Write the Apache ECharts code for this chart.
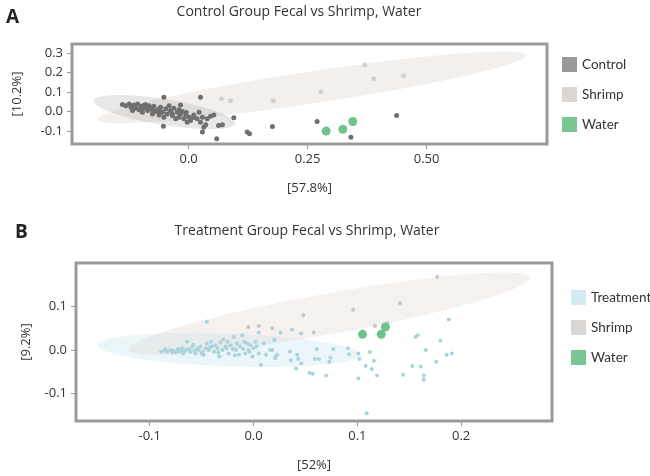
<!DOCTYPE html>
<html lang="en">
<head>
    <meta charset="UTF-8">
    <title>Fecal vs Shrimp, Water</title>
    <script src="https://cdn.jsdelivr.net/npm/echarts/dist/echarts.min.js"></script>
    <style>
        body { margin: 0; background: #fff; }
        #chart-container { width: 650px; height: 476px; }
    </style>
</head>
<body>
    <div id="chart-container"></div>
    <script>
        // ---- panel A data ----
        var controlA = [
            [-0.139, 0.036], [-0.132, 0.030], [-0.125, 0.039], [-0.121, 0.022], [-0.118, 0.005],
            [-0.114, 0.034], [-0.111, 0.017], [-0.107, 0.039], [-0.104, 0.010], [-0.100, 0.027],
            [-0.097, -0.003], [-0.093, 0.034], [-0.090, 0.017], [-0.086, 0.005], [-0.083, 0.030],
            [-0.079, 0.014], [-0.076, -0.012], [-0.073, 0.027], [-0.069, 0.000], [-0.065, 0.010],
            [-0.062, -0.017], [-0.059, 0.022], [-0.055, -0.003], [-0.052, -0.029], [-0.048, 0.014],
            [-0.045, -0.012], [-0.041, 0.030], [-0.038, 0.005], [-0.034, -0.020], [-0.031, 0.017],
            [-0.027, -0.037], [-0.024, -0.003], [-0.020, -0.029], [-0.017, -0.012], [-0.013, 0.000],
            [-0.010, -0.037], [-0.006, -0.017], [-0.003, -0.054], [0.001, -0.029], [0.004, -0.046],
            [0.011, -0.017], [0.018, -0.037], [0.022, -0.003], [0.025, -0.054], [0.029, -0.029],
            [0.032, -0.080], [0.036, -0.068], [0.039, -0.037], [0.046, -0.024], [0.053, -0.017],
            [0.063, -0.071], [0.071, -0.068], [-0.017, 0.034], [-0.052, 0.073], [0.025, 0.073],
            [-0.053, -0.075], [0.029, -0.105], [0.059, -0.139], [0.095, -0.032], [0.123, -0.105],
            [0.128, -0.113], [0.176, -0.076], [0.270, -0.051], [0.341, -0.132], [0.437, -0.020],
            [-0.120, 0.030], [-0.095, 0.020], [-0.075, 0.005], [-0.060, 0.000], [-0.035, -0.010],
            [-0.020, 0.010], [-0.005, -0.005], [0.010, -0.030], [-0.090, 0.035], [-0.100, 0.015]
        ];
        var shrimpA = [
            [0.069, 0.066], [0.088, 0.056], [0.178, 0.056], [0.278, 0.102],
            [0.370, 0.239], [0.389, 0.168], [0.452, 0.183]
        ];
        var waterA = [[0.289, -0.100], [0.324, -0.091], [0.345, -0.051]];
        // ellipse: [tip x1, tip y1, tip x2, tip y2, minor/major ratio]
        var shrimpEllipseA = [-0.190, -0.041, 0.709, 0.289, 0.074];
        var controlEllipseA = [-0.199, 0.056, 0.098, -0.061, 0.18];
        var xTicksA = ['0.0', '0.25', '0.50'];
        var yTicksA = ['-0.1', '0.0', '0.1', '0.2', '0.3'];

        // ---- panel B data ----
        var treatmentB = [
            [-0.089, -0.004], [-0.086, -0.002], [-0.083, -0.004], [-0.080, 0.000], [-0.077, -0.002],
            [-0.075, -0.006], [-0.073, 0.002], [-0.072, -0.004], [-0.070, 0.000], [-0.069, 0.004],
            [-0.067, -0.004], [-0.065, 0.000], [-0.064, 0.019], [-0.062, 0.002], [-0.061, -0.004],
            [-0.059, 0.008], [-0.057, -0.002], [-0.056, -0.008], [-0.054, 0.004], [-0.053, 0.000],
            [-0.051, 0.008], [-0.049, -0.004], [-0.048, -0.011], [-0.046, 0.004], [-0.045, 0.015],
            [-0.043, 0.000], [-0.041, 0.019], [-0.040, 0.008], [-0.038, -0.004], [-0.037, 0.011],
            [-0.035, 0.004], [-0.033, -0.015], [-0.032, 0.017], [-0.030, 0.000], [-0.029, 0.024],
            [-0.027, 0.008], [-0.025, 0.019], [-0.024, -0.008], [-0.022, 0.011], [-0.020, 0.002],
            [-0.019, 0.030], [-0.017, 0.000], [-0.016, 0.015], [-0.014, -0.011], [-0.013, 0.008],
            [-0.011, 0.034], [-0.009, 0.019], [-0.008, -0.008], [-0.006, 0.015], [-0.005, 0.000],
            [-0.003, 0.011], [-0.001, -0.015], [0.000, 0.004], [0.002, 0.019], [0.005, -0.008],
            [0.007, -0.034], [0.010, 0.015], [0.012, -0.011], [0.016, 0.000], [0.020, 0.023],
            [0.021, -0.019], [-0.045, 0.065], [0.005, 0.040],
            [-0.085, 0.003], [-0.078, -0.006], [-0.068, -0.008], [-0.058, 0.012], [-0.050, -0.008],
            [-0.042, 0.006], [-0.034, -0.006], [-0.026, 0.004], [-0.018, -0.012], [-0.010, 0.002],
            [-0.004, -0.004], [0.003, 0.008],
            [0.018, 0.050], [0.026, 0.040], [0.037, 0.047], [0.046, 0.038], [0.020, 0.023],
            [0.018, 0.000], [0.021, -0.015], [0.023, -0.011], [0.035, -0.004], [0.036, -0.024],
            [0.042, -0.011], [0.043, -0.021], [0.046, -0.031], [0.041, -0.043], [0.054, -0.053],
            [0.057, -0.055], [0.061, 0.002], [0.059, -0.021], [0.063, -0.021], [0.070, -0.059],
            [0.074, -0.018], [0.073, -0.027], [0.077, 0.002], [0.091, 0.004], [0.092, -0.010],
            [0.101, -0.008], [0.102, -0.021], [0.101, -0.066], [0.112, -0.005], [0.108, -0.037],
            [0.116, -0.025], [0.114, -0.044], [0.119, -0.059], [0.109, -0.146], [0.129, 0.062],
            [0.156, 0.030], [0.158, 0.034], [0.144, -0.057], [0.153, -0.037], [0.161, -0.038],
            [0.164, -0.059], [0.164, -0.069], [0.166, 0.000], [0.176, -0.027], [0.180, 0.021],
            [0.186, -0.011], [0.191, -0.008], [0.188, 0.070]
        ];
        var shrimpB = [
            [0.177, 0.169], [0.141, 0.108], [0.096, 0.093], [0.048, 0.080],
            [0.058, 0.040], [-0.005, 0.053], [0.005, 0.055], [0.117, 0.055]
        ];
        var waterB = [[0.105, 0.036], [0.123, 0.036], [0.127, 0.053]];
        var shrimpEllipseB = [-0.120, 0.000, 0.266, 0.167, 0.10];
        var treatmentEllipseB = [-0.150, 0.011, 0.103, -0.011, 0.125];
        var xTicksB = ['-0.1', '0.0', '0.1', '0.2'];
        var yTicksB = ['-0.1', '0.0', '0.1'];

        var font = 'Open Sans';
        var legendFont = 'Lato';
        var myChart = echarts.init(document.getElementById('chart-container'));

        function ellipseSeries(name, params, color, idx) {
            return {
                name: name,
                type: 'custom',
                xAxisIndex: idx,
                yAxisIndex: idx,
                silent: true,
                clip: true,
                data: [params],
                encode: { x: [0, 2], y: [1, 3] },
                renderItem: function (p, api) {
                    var a = api.coord([api.value(0), api.value(1)]);
                    var b = api.coord([api.value(2), api.value(3)]);
                    var ratio = api.value(4);
                    var cx = (a[0] + b[0]) / 2, cy = (a[1] + b[1]) / 2;
                    var dx = (b[0] - a[0]) / 2, dy = (b[1] - a[1]) / 2;
                    // minor axis: perpendicular to the major one, scaled by ratio
                    var nx = -dy * ratio, ny = dx * ratio;
                    var pts = [];
                    for (var i = 0; i < 90; i++) {
                        var t = i / 90 * Math.PI * 2;
                        pts.push([cx + dx * Math.cos(t) + nx * Math.sin(t),
                                  cy + dy * Math.cos(t) + ny * Math.sin(t)]);
                    }
                    return { type: 'polygon', shape: { points: pts }, style: { fill: color } };
                }
            };
        }

        function scatter(name, data, color, size, idx) {
            return {
                name: name, type: 'scatter', data: data,
                xAxisIndex: idx, yAxisIndex: idx,
                symbolSize: size, itemStyle: { color: color, opacity: 1 },
                z: 3
            };
        }

        function valueAxis(min, max, ticks, name, gap, pos, idx) {
            var vals = ticks.map(parseFloat);
            return {
                type: 'value', gridIndex: idx, min: min, max: max, position: pos,
                name: name, nameLocation: 'middle', nameGap: gap,
                nameTextStyle: { fontFamily: font, fontSize: 13, color: '#333' },
                splitLine: { show: false },
                axisLine: { show: false, onZero: false },
                axisTick: { show: true, length: 5, customValues: vals, lineStyle: { color: '#999', width: 1 } },
                axisLabel: {
                    customValues: vals, margin: 9, fontFamily: font, fontSize: 13, color: '#333',
                    formatter: function (v) {
                        var i = vals.indexOf(v);
                        return i >= 0 ? ticks[i] : String(v);
                    }
                }
            };
        }

        var option = {
            animation: false,
            title: [
                { text: 'A', left: 1, top: 3, textStyle: { fontFamily: font, fontSize: 19, fontWeight: 'bold', color: '#222' } },
                { text: 'Control Group Fecal vs Shrimp, Water', left: 294, top: 0, textAlign: 'center',
                  textStyle: { fontFamily: font, fontSize: 14, fontWeight: 'normal', color: '#333' } },
                { text: 'B', left: 10, top: 218, textStyle: { fontFamily: font, fontSize: 19, fontWeight: 'bold', color: '#222' } },
                { text: 'Treatment Group Fecal vs Shrimp, Water', left: 302, top: 219, textAlign: 'center',
                  textStyle: { fontFamily: font, fontSize: 14, fontWeight: 'normal', color: '#333' } }
            ],
            legend: [
                {
                    orient: 'vertical', left: 562, top: 57, padding: 0, itemWidth: 15, itemHeight: 15, itemGap: 15,
                    icon: 'rect', selectedMode: false,
                    textStyle: { fontFamily: legendFont, fontSize: 13.5, color: '#333' },
                    data: [
                        { name: 'Control', itemStyle: { color: '#999999' } },
                        { name: 'Shrimp', itemStyle: { color: '#d9d6d3' } },
                        { name: 'Water', itemStyle: { color: '#7ac693' } }
                    ]
                },
                {
                    orient: 'vertical', left: 571, top: 290, padding: 0, itemWidth: 15, itemHeight: 15, itemGap: 15,
                    icon: 'rect', selectedMode: false,
                    textStyle: { fontFamily: legendFont, fontSize: 13.5, color: '#333' },
                    data: [
                        { name: 'Treatment', itemStyle: { color: '#d3eaf2' } },
                        { name: 'Shrimp', itemStyle: { color: '#d9d6d3' } },
                        { name: 'Water', itemStyle: { color: '#7ac693' } }
                    ]
                }
            ],
            grid: [
                { left: 72, top: 44, width: 475, height: 100, show: true, borderColor: '#9a9a9a', borderWidth: 3, backgroundColor: '#fff' },
                { left: 76, top: 263, width: 476, height: 158, show: true, borderColor: '#9a9a9a', borderWidth: 3, backgroundColor: '#fff' }
            ],
            xAxis: [
                valueAxis(-0.245, 0.753, xTicksA, '[57.8%]', 38, 'bottom', 0),
                valueAxis(-0.171, 0.2875, xTicksB, '[52%]', 38, 'bottom', 1)
            ],
            yAxis: [
                valueAxis(-0.166, 0.346, yTicksA, '[10.2%]', 48, 'left', 0),
                valueAxis(-0.164, 0.2007, yTicksB, '[9.2%]', 43, 'left', 1)
            ],
            series: [
                ellipseSeries('shrimpEllipseA', shrimpEllipseA, 'rgba(232,224,218,0.5)', 0),
                ellipseSeries('controlEllipseA', controlEllipseA, 'rgba(170,170,170,0.28)', 0),
                scatter('Control', controlA, '#6f6f6f', 5, 0),
                scatter('Shrimp', shrimpA, '#d4d0cd', 5, 0),
                scatter('Water', waterA, '#6fc38c', 9, 0),
                ellipseSeries('treatmentEllipseB', treatmentEllipseB, 'rgba(218,239,246,0.55)', 1),
                ellipseSeries('shrimpEllipseB', shrimpEllipseB, 'rgba(225,215,208,0.35)', 1),
                scatter('Treatment', treatmentB, '#a9d3de', 4, 1),
                scatter('Shrimp', shrimpB, '#cdc4bf', 4, 1),
                scatter('Water', waterB, '#6fc38c', 9, 1)
            ]
        };

        myChart.setOption(option);

        window.addEventListener('resize', function () {
            myChart.resize();
        });
    </script>
</body>
</html>
